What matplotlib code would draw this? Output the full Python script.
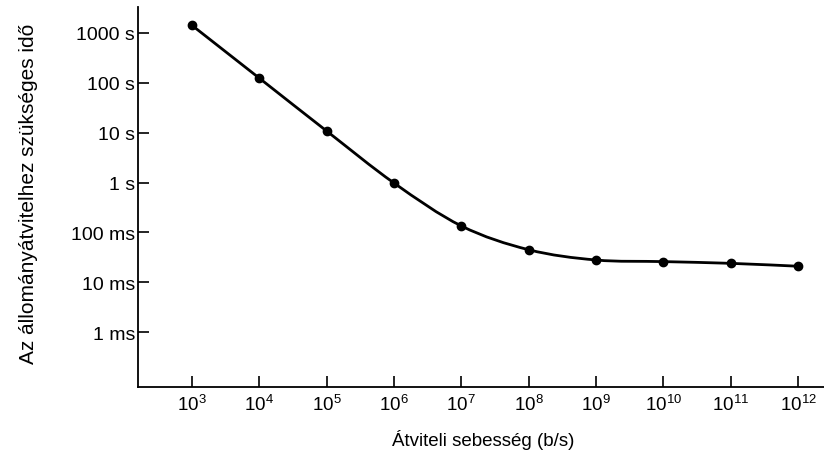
#!/usr/bin/env python3
"""File transfer time vs. line speed (log-log), redrawn from a scanned figure."""
import matplotlib

matplotlib.use("Agg")
import matplotlib.pyplot as plt
import numpy as np
from matplotlib.path import Path
from matplotlib.patches import PathPatch

# data
rates = [1e3, 1e4, 1e5, 1e6, 1e7, 1e8, 1e9, 1e10, 1e11, 1e12]  # b/s
times = [1420, 124, 10.8, 0.98, 0.135, 0.045, 0.028, 0.026, 0.024, 0.021]  # s

x_ticks = [1e3, 1e4, 1e5, 1e6, 1e7, 1e8, 1e9, 1e10, 1e11, 1e12]
x_tick_labels = [r"$\mathdefault{10^{%d}}$" % e for e in range(3, 13)]
y_ticks = [1e-3, 1e-2, 1e-1, 1, 10, 100, 1000]
y_tick_labels = ["1 ms", "10 ms", "100 ms", "1 s", "10 s", "100 s", "1000 s"]

plt.rcParams["font.family"] = ["Liberation Sans", "DejaVu Sans"]


def smooth_path(xs, ys):
    # Catmull-Rom -> cubic Bezier, built in log space so it bends like the original
    lx, ly = np.log10(xs), np.log10(ys)
    pts = np.column_stack([lx, ly])
    ext = np.vstack([pts[0], pts, pts[-1]])
    verts, codes = [pts[0]], [Path.MOVETO]
    for i in range(1, len(ext) - 2):
        p0, p1, p2, p3 = ext[i - 1], ext[i], ext[i + 1], ext[i + 2]
        verts += [p1 + (p2 - p0) / 6, p2 - (p3 - p1) / 6, p2]
        codes += [Path.CURVE4] * 3
    return Path(10 ** np.array(verts), codes)


fig = plt.figure(figsize=(8.24, 4.6), dpi=100)
ax = fig.add_axes([0.1675, 0.1565, 0.8325, 0.826])
ax.set_xscale("log")
ax.set_yscale("log")
ax.set_xlim(10 ** 2.198, 10 ** 12.386)
ax.set_ylim(10 ** -4.1, 10 ** 3.52)

ax.add_patch(PathPatch(smooth_path(rates, times), fill=False, lw=2.0, ec="black"))
ax.plot(rates, times, "o", color="black", ms=6, zorder=3)

ax.set_xticks(x_ticks, labels=x_tick_labels)
ax.set_yticks(y_ticks, labels=y_tick_labels)
ax.minorticks_off()
ax.tick_params(axis="x", direction="in", length=8, width=1.2, pad=5, labelsize=13.5)
ax.tick_params(axis="y", direction="in", length=8, width=1.2, pad=2, labelsize=14)

for side in ("top", "right"):
    ax.spines[side].set_visible(False)
for side in ("left", "bottom"):
    ax.spines[side].set_linewidth(1.3)

ax.set_ylabel("Az állományátvitelhez szükséges idő", fontsize=15)
ax.yaxis.set_label_coords(-0.146, 0.51)
ax.set_xlabel("Átviteli sebesség (b/s)", fontsize=13.5)
ax.xaxis.set_label_coords(0.503, -0.11)

fig.savefig("out.png", dpi=100, facecolor="white")
plt.close(fig)
